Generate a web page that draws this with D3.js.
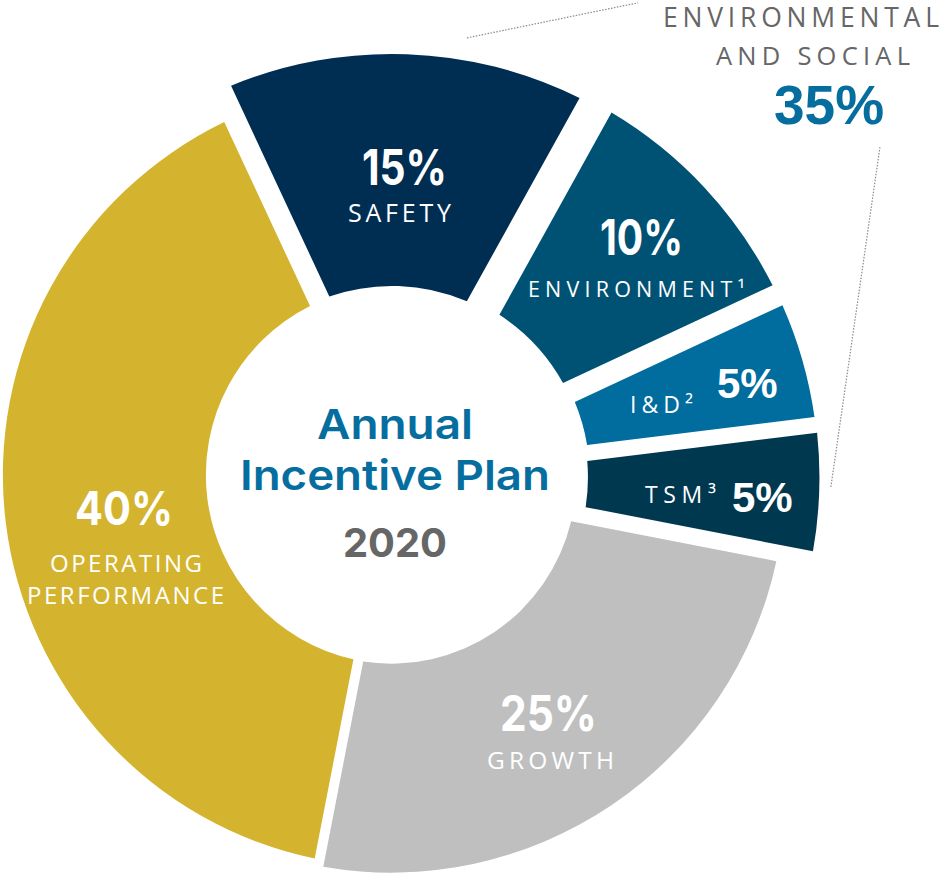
<!DOCTYPE html>
<html>
<head>
<meta charset="utf-8">
<script src="https://cdn.jsdelivr.net/npm/d3@7"></script>
<style>
  html, body { margin: 0; padding: 0; background: #ffffff; }
  svg { display: block; }
</style>
</head>
<body>
<svg id="chart" width="940" height="873"></svg>
<script>
// ---------------- DATA ----------------
const categories = ["Safety", "Environment", "I&D", "TSM", "Growth", "Operating Performance"];
const values = [15, 10, 5, 5, 25, 40];
const nameLines = [["SAFETY"], ["ENVIRONMENT¹"], ["I&D²"], ["TSM³"], ["GROWTH"], ["OPERATING", "PERFORMANCE"]];
const inGroup = [true, true, true, true, false, false];   // Environmental and Social
const groupLines = ["ENVIRONMENTAL", "AND SOCIAL"];
const titleLines = ["Annual", "Incentive Plan"];
const yearLabel = "2020";

// ---------------- STYLE / LAYOUT ----------------
const colors = ["#002e53", "#005275", "#016c9e", "#00384f", "#bfbfbf", "#d4b42f"];
const W = 940, H = 873;
const cx = 395, cy = 476;
const startDeg = -25;
const rad = Math.PI / 180;

// per slice: inner radius, outer radius, half gap (px), tangential shift (px)
const geom = [
  { ri: 190,   ro: 422,   gap: 19.1, shift: -3.1 },
  { ri: 192,   ro: 423,   gap: 13.2, shift: 0 },
  { ri: 194.5, ro: 423.5, gap: 8.2,  shift: 0.8 },
  { ri: 193,   ro: 424.5, gap: 7.2,  shift: 1.4 },
  { ri: 185,   ro: 394,   gap: 7.5,  shift: 4.7 },
  { ri: 189,   ro: 392,   gap: 5.5,  shift: 1.1 }
];

// label offsets from each slice centroid
const pctFontPop = "Inter, 'Noto Sans', sans-serif";
const pctFontArial = "'Liberation Sans', Arial, sans-serif";
const nameFont = "'Open Sans', 'Noto Sans', sans-serif";
const labelLayout = [
  { pct: { dx: -1.2, dy: 14.8, anchor: "middle", font: "pop", size: 49, w: 85 },
    names: [{ dx: -6.2, dy: 51.8, anchor: "middle", size: 25, w: 103 }] },
  { pct: { dx: 21.6, dy: -11.3, anchor: "middle", font: "pop", size: 49, w: 83 },
    names: [{ dx: 16.6, dy: 30.7, anchor: "middle", size: 21.5, w: 217 }] },
  { pct: { dx: 25, dy: 7.2, anchor: "start", font: "arial", size: 42 },
    names: [{ dx: -62, dy: 22.2, anchor: "start", size: 23, w: 63 }] },
  { pct: { dx: 28.4, dy: 25.2, anchor: "start", font: "arial", size: 42 },
    names: [{ dx: -58.6, dy: 16.2, anchor: "start", size: 23, w: 71 }] },
  { pct: { dx: -8.4, dy: 15, anchor: "middle", font: "pop", size: 49, w: 97 },
    names: [{ dx: -6.4, dy: 53, anchor: "middle", size: 24.5, w: 127 }] },
  { pct: { dx: 17.3, dy: 13.6, anchor: "middle", font: "pop", size: 47, w: 98 },
    names: [{ dx: 19.3, dy: 60.6, anchor: "middle", size: 24, w: 152 },
            { dx: 18.8, dy: 92.6, anchor: "middle", size: 24, w: 197 }] }
];

// ---------------- DRAW ----------------
const svg = d3.select("#chart");
svg.append("rect").attr("width", W).attr("height", H).attr("fill", "#ffffff");

const pie = d3.pie().value(d => d).sort(null)
  .startAngle(startDeg * rad).endAngle((startDeg + 360) * rad);
const arcs = pie(values);

const g = svg.append("g").attr("transform", `translate(${cx},${cy})`);

function addText(parent, x, y, str, o) {
  const t = parent.append("text")
    .attr("x", x).attr("y", y)
    .attr("font-family", o.font)
    .attr("font-size", o.size)
    .attr("font-weight", o.weight || 400)
    .attr("fill", o.fill)
    .attr("text-anchor", o.anchor || "middle")
    .text(str);
  if (o.w) t.attr("textLength", o.w).attr("lengthAdjust", o.adjust || "spacing");
  return t;
}

arcs.forEach((a, i) => {
  const gm = geom[i];
  const arcGen = d3.arc()
    .innerRadius(gm.ri).outerRadius(gm.ro)
    .padRadius(100).padAngle(2 * Math.asin(gm.gap / 100));
  const mid = (a.startAngle + a.endAngle) / 2;
  const tx = gm.shift * Math.cos(mid), ty = gm.shift * Math.sin(mid);
  g.append("path")
    .attr("d", arcGen(a))
    .attr("fill", colors[i])
    .attr("transform", `translate(${tx},${ty})`);
});

// slice labels
arcs.forEach((a, i) => {
  const gm = geom[i];
  const c = d3.arc().innerRadius(gm.ri).outerRadius(gm.ro).centroid(a);
  const L = labelLayout[i];
  const p = L.pct;
  const isPop = p.font === "pop";
  addText(g, c[0] + p.dx, c[1] + p.dy, values[i] + "%", {
    font: isPop ? pctFontPop : pctFontArial,
    size: p.size, weight: 700, fill: "#ffffff", anchor: p.anchor,
    w: isPop ? p.w : null, adjust: "spacingAndGlyphs"
  });
  nameLines[i].forEach((line, j) => {
    const n = L.names[j];
    addText(g, c[0] + n.dx, c[1] + n.dy, line, {
      font: nameFont, size: n.size, weight: 400, fill: "#ffffff",
      anchor: n.anchor, w: n.w, adjust: "spacing"
    });
  });
});

// centre title
const titleBlue = "#066e9f";
addText(g, 0, -37, titleLines[0], { font: pctFontPop, size: 41, weight: 600, fill: titleBlue, w: 156, adjust: "spacingAndGlyphs" });
addText(g, 0, 14, titleLines[1], { font: pctFontPop, size: 41, weight: 600, fill: titleBlue, w: 310, adjust: "spacingAndGlyphs" });
addText(g, 0, 81, yearLabel, { font: pctFontPop, size: 40, weight: 700, fill: "#666666", w: 104, adjust: "spacingAndGlyphs" });

// group (Environmental and Social) annotation
const groupTotal = d3.sum(values.filter((v, i) => inGroup[i]));
addText(svg, 801, 27, groupLines[0], { font: nameFont, size: 26.5, weight: 400, fill: "#666666", w: 276, adjust: "spacing" });
addText(svg, 813, 65, groupLines[1], { font: nameFont, size: 25.5, weight: 400, fill: "#666666", w: 194, adjust: "spacing" });
addText(svg, 774, 124, groupTotal + "%", { font: pctFontArial, size: 55, weight: 700, fill: titleBlue, anchor: "start" });

// dotted leader lines (polar positions around the chart centre)
const leaders = [
  [[9.33, 444], [27.19, 532]],
  [[55.85, 586], [91.45, 436]]
];
leaders.forEach(seg => {
  const p0 = d3.pointRadial(seg[0][0] * rad, seg[0][1]);
  const p1 = d3.pointRadial(seg[1][0] * rad, seg[1][1]);
  g.append("line")
    .attr("x1", p0[0]).attr("y1", p0[1])
    .attr("x2", p1[0]).attr("y2", p1[1])
    .attr("stroke", "#8a8a8a")
    .attr("stroke-width", 1.2)
    .attr("stroke-dasharray", "1.5 1.5");
});
</script>
</body>
</html>
